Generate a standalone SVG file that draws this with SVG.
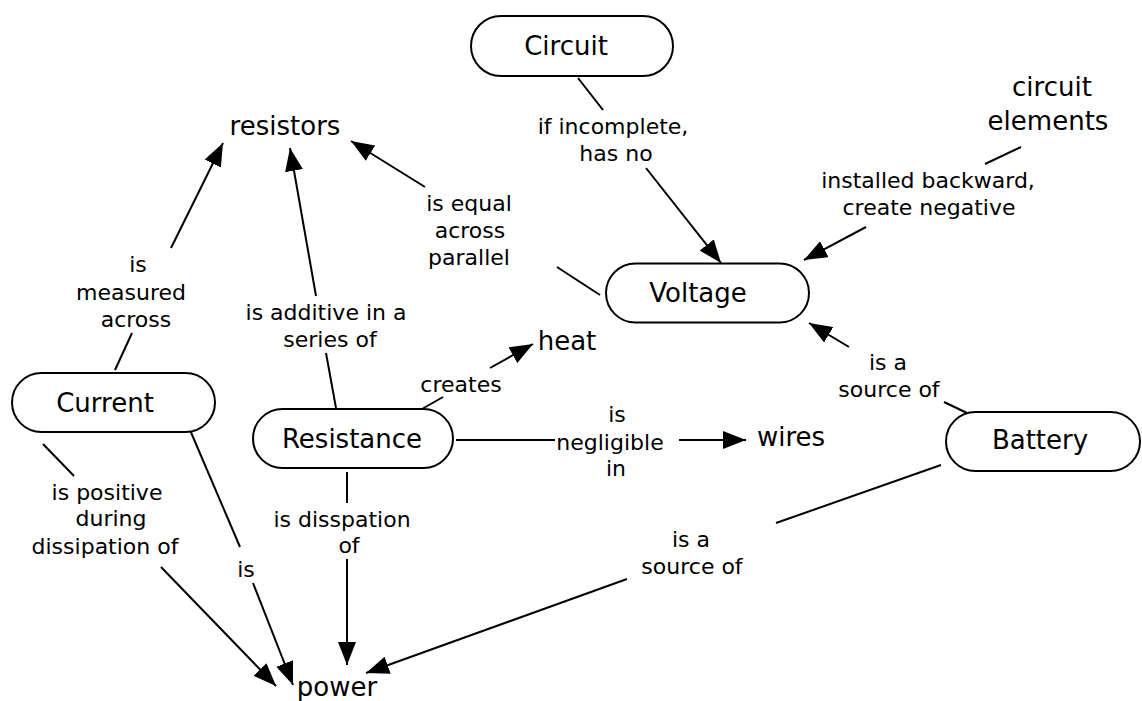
<svg xmlns="http://www.w3.org/2000/svg" width="1142" height="701" viewBox="0 0 1142 701">
<style>
.node{fill:#fff;stroke:#000;stroke-width:2}
.nt{font-family:"DejaVu Sans","Verdana",sans-serif;font-size:26px;fill:#000;text-anchor:middle}
.lt{font-family:"DejaVu Sans","Verdana",sans-serif;font-size:22px;fill:#000;text-anchor:middle}
.c line{stroke:#000;stroke-width:2;fill:none}
.c line.a{marker-end:url(#arr)}
</style>
<defs>
<marker id="arr" markerUnits="userSpaceOnUse" markerWidth="24" markerHeight="18" refX="23" refY="9" orient="auto" viewBox="0 0 24 18">
<path d="M0,0 L23,9 L0,18 z" fill="#000"/>
</marker>
</defs>
<rect width="1142" height="701" fill="#fff"/>
<g id="connectors" class="c">
<line x1="578" y1="78" x2="603" y2="110"/>
<line class="a" x1="646" y1="168" x2="721" y2="263"/>
<line x1="1021" y1="147" x2="985" y2="164"/>
<line class="a" x1="866" y1="227" x2="804" y2="260"/>
<line x1="967" y1="413" x2="944" y2="402"/>
<line class="a" x1="849" y1="347" x2="809" y2="323"/>
<line x1="600" y1="295" x2="557" y2="267"/>
<line class="a" x1="425" y1="187" x2="351" y2="141"/>
<line x1="115" y1="370" x2="132" y2="333"/>
<line class="a" x1="171" y1="248" x2="223" y2="143"/>
<line x1="336" y1="408" x2="326" y2="353"/>
<line class="a" x1="316" y1="296" x2="290" y2="148"/>
<line x1="422" y1="409" x2="443" y2="397"/>
<line class="a" x1="490" y1="368" x2="533" y2="344"/>
<line x1="456" y1="440" x2="555" y2="440"/>
<line class="a" x1="679" y1="440" x2="746" y2="440"/>
<line x1="347" y1="472" x2="347" y2="503"/>
<line class="a" x1="347" y1="559" x2="347" y2="665"/>
<line x1="190" y1="430" x2="240" y2="547"/>
<line class="a" x1="253" y1="583" x2="293" y2="685"/>
<line x1="43" y1="444" x2="74" y2="476"/>
<line class="a" x1="161" y1="567" x2="276" y2="686"/>
<line x1="941" y1="465" x2="776" y2="523"/>
<line class="a" x1="627" y1="579" x2="366" y2="673"/>
</g>
<g id="labels">
<text class="lt" x="613" y="134">if incomplete,</text>
<text class="lt" x="616" y="161">has no</text>
<text class="lt" x="928" y="188">installed backward,</text>
<text class="lt" x="929" y="215">create negative</text>
<text class="lt" x="469" y="211">is equal</text>
<text class="lt" x="470" y="238">across</text>
<text class="lt" x="469" y="265">parallel</text>
<text class="lt" x="138" y="272">is</text>
<text class="lt" x="131" y="300">measured</text>
<text class="lt" x="136" y="327">across</text>
<text class="lt" x="326" y="320">is additive in a</text>
<text class="lt" x="330" y="347">series of</text>
<text class="lt" x="461" y="392">creates</text>
<text class="lt" x="617" y="422">is</text>
<text class="lt" x="610" y="450">negligible</text>
<text class="lt" x="616" y="476">in</text>
<text class="lt" x="888" y="370">is a</text>
<text class="lt" x="889" y="397">source of</text>
<text class="lt" x="691" y="547">is a</text>
<text class="lt" x="692" y="574">source of</text>
<text class="lt" x="107" y="500">is positive</text>
<text class="lt" x="111" y="526">during</text>
<text class="lt" x="105" y="554">dissipation of</text>
<text class="lt" x="246" y="577">is</text>
<text class="lt" x="342" y="527">is disspation</text>
<text class="lt" x="349" y="553">of</text>
</g>
<g id="circuit"><rect class="node" x="471" y="16" width="202" height="60" rx="30"/><text class="nt" x="566" y="55">Circuit</text></g>
<g id="resistors"><text class="nt" x="285" y="135">resistors</text></g>
<g id="circuit-elements"><text class="nt" x="1052" y="96">circuit</text><text class="nt" x="1048" y="130">elements</text></g>
<g id="voltage"><rect class="node" x="606" y="263.5" width="203" height="59" rx="29.5"/><text class="nt" x="698" y="302">Voltage</text></g>
<g id="heat"><text class="nt" x="567" y="350">heat</text></g>
<g id="current"><rect class="node" x="12" y="373" width="203" height="59" rx="29.5"/><text class="nt" x="105" y="412">Current</text></g>
<g id="resistance"><rect class="node" x="253" y="409" width="200" height="59" rx="29.5"/><text class="nt" x="352" y="448">Resistance</text></g>
<g id="wires"><text class="nt" x="791" y="446">wires</text></g>
<g id="battery"><rect class="node" x="946" y="412" width="194" height="59" rx="29.5"/><text class="nt" x="1040" y="449">Battery</text></g>
<g id="power"><text class="nt" x="337" y="696">power</text></g>
</svg>
